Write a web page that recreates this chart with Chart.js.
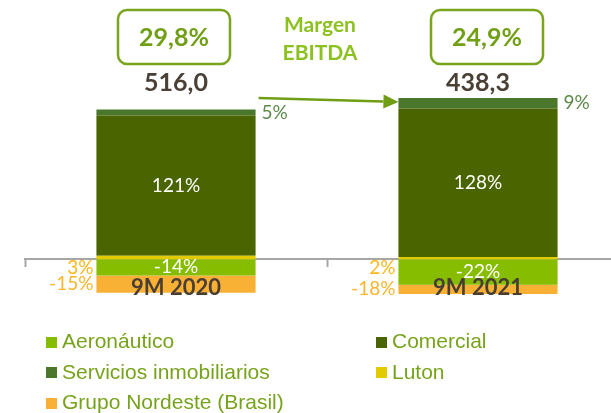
<!DOCTYPE html>
<html>
<head>
<meta charset="utf-8">
<script src="https://cdn.jsdelivr.net/npm/chart.js@4"></script>
<style>
    html, body { margin: 0; padding: 0; background: #fff; overflow: hidden; width: 611px; height: 413px; }
    #wrap { position: relative; width: 611px; height: 413px; }
    #chart { position: absolute; left: 0; top: 0; }
    #legend { position: absolute; left: 0; top: 0; width: 611px; height: 413px; pointer-events: none; }
    .legend-item {
        position: absolute; height: 30px; display: flex; align-items: center;
        font: 21px 'Liberation Sans', Arial, sans-serif; color: #77a31c; white-space: nowrap;
    }
    .legend-box { width: 11px; height: 11px; margin-right: 5px; margin-top: 2px; }
</style>
</head>
<body>
<div id="wrap">
    <canvas id="chart" width="640" height="310"></canvas>
    <div id="legend"></div>
</div>
<script>
// Chart data (share of EBITDA, %)
const categories = ['9M 2020', '9M 2021'];
const ebitdaTotals = [516.0, 438.3];
const ebitdaMargin = [29.8, 24.9];
const aeronautico = [-14, -22];
const comercial = [121, 128];
const inmobiliario = [5, 9];
const luton = [3, 2];
const nordeste = [-15, -18];

const COLORS = {
    aero: '#86bd00',
    comercial: '#4a6500',
    inmob: '#4b772d',
    luton: '#e2cc00',
    nordeste: '#f8b134',
};

const LEGEND_ORDER = ['Aeronáutico', 'Comercial', 'Servicios inmobiliarios', 'Luton', 'Grupo Nordeste (Brasil)'];

/**
 * Segment labels, totals, margin boxes and arrow
 */
const annotations = {
    id: 'annotations',
    afterDatasetsDraw(chart) {
        const ctx = chart.ctx;
        const area = chart.chartArea;
        const zeroY = chart.scales.y.getPixelForValue(0);

        chart.data.datasets.forEach((ds, i) => {
            const meta = chart.getDatasetMeta(i);
            meta.data.forEach((bar, j) => {
                const text = ds.data[j] + '%';
                const top = Math.max(Math.min(bar.y, bar.base), area.top);
                const bottom = Math.min(Math.max(bar.y, bar.base), area.bottom);
                const midY = (top + bottom) / 2;
                const half = bar.width / 2;

                ctx.save();
                ctx.font = '19px Lato, sans-serif';
                ctx.fillStyle = ds.labelColor;
                ctx.textBaseline = 'middle';
                if (ds.labelAt === 'center') {
                    ctx.textAlign = 'center';
                    ctx.fillText(text, bar.x, midY);
                } else if (ds.labelAt === 'right') {
                    ctx.textAlign = 'left';
                    ctx.fillText(text, bar.x + half + 6, midY);
                } else {
                    // tiny segments get their label just under the zero line
                    const y = ds.labelAt === 'leftZero' ? zeroY + 9 : midY;
                    ctx.textAlign = 'right';
                    ctx.fillText(text, bar.x - half - 3, y);
                }
                ctx.restore();
            });
        });
    },
    afterDraw(chart) {
        const ctx = chart.ctx;
        const area = chart.chartArea;
        const bars = chart.getDatasetMeta(0).data;
        const boxShift = [-2, 9];

        ctx.save();

        // EBITDA totals
        ctx.font = 'bold 25px Lato, sans-serif';
        ctx.fillStyle = '#4a4035';
        ctx.textAlign = 'center';
        ctx.textBaseline = 'middle';
        bars.forEach((bar, j) => {
            ctx.fillText(ebitdaTotals[j].toFixed(1).replace('.', ','), bar.x, area.top - 15);
        });

        // Margin boxes
        bars.forEach((bar, j) => {
            const cx = bar.x + boxShift[j];
            ctx.beginPath();
            ctx.roundRect(cx - 56, 10, 112, 54, 9);
            ctx.lineWidth = 2.5;
            ctx.strokeStyle = '#79a51d';
            ctx.stroke();
            ctx.font = 'bold 25px Lato, sans-serif';
            ctx.fillStyle = '#71a016';
            ctx.fillText(ebitdaMargin[j].toFixed(1).replace('.', ',') + '%', cx, 38);
        });

        // Margen EBITDA caption
        const midX = (bars[0].x + bars[1].x) / 2 - 7;
        ctx.font = 'bold 21px Lato, sans-serif';
        ctx.fillStyle = '#8cc21f';
        ctx.fillText('Margen', midX, 25);
        ctx.fillText('EBITDA', midX, 53);

        // Arrow between bars
        const x1 = bars[0].x + bars[0].width / 2 + 3;
        const y1 = area.top;
        const x2 = bars[1].x - bars[1].width / 2;
        const y2 = area.top + 4;
        const ang = Math.atan2(y2 - y1, x2 - x1);
        const headLen = 15;
        ctx.strokeStyle = '#6f9d14';
        ctx.fillStyle = '#6f9d14';
        ctx.lineWidth = 2.5;
        ctx.beginPath();
        ctx.moveTo(x1, y1);
        ctx.lineTo(x2 - headLen * Math.cos(ang), y2 - headLen * Math.sin(ang));
        ctx.stroke();
        ctx.beginPath();
        ctx.moveTo(x2, y2);
        ctx.lineTo(x2 - headLen * Math.cos(ang) + 7 * Math.sin(ang), y2 - headLen * Math.sin(ang) - 7 * Math.cos(ang));
        ctx.lineTo(x2 - headLen * Math.cos(ang) - 7 * Math.sin(ang), y2 - headLen * Math.sin(ang) + 7 * Math.cos(ang));
        ctx.closePath();
        ctx.fill();

        ctx.restore();
    }
};

const datasets = [
    { label: 'Luton', data: luton, backgroundColor: COLORS.luton, labelAt: 'leftZero', labelColor: '#f9b81c' },
    { label: 'Aeronáutico', data: aeronautico, backgroundColor: COLORS.aero, labelAt: 'center', labelColor: '#ffffff' },
    { label: 'Comercial', data: comercial, backgroundColor: COLORS.comercial, labelAt: 'center', labelColor: '#ffffff' },
    { label: 'Grupo Nordeste (Brasil)', data: nordeste, backgroundColor: COLORS.nordeste, labelAt: 'left', labelColor: '#f9b52e' },
    { label: 'Servicios inmobiliarios', data: inmobiliario, backgroundColor: COLORS.inmob, labelAt: 'right', labelColor: '#5b8b47' },
];

const chart = new Chart(document.getElementById('chart'), {
    type: 'bar',
    data: {
        labels: categories,
        datasets: datasets.map(d => ({
            ...d,
            borderWidth: 0,
            barPercentage: 0.527,
            categoryPercentage: 1,
        })),
    },
    options: {
        responsive: false,
        animation: false,
        devicePixelRatio: 1,
        layout: { padding: { left: 25, right: 11, top: 98, bottom: 16 } },
        plugins: {
            legend: { display: false },
            tooltip: { enabled: false },
        },
        scales: {
            x: {
                stacked: true,
                position: { y: 0 },
                afterFit: (scale) => { scale.height = 0; },
                grid: {
                    drawOnChartArea: false,
                    drawTicks: true,
                    tickLength: 7,
                    tickWidth: 2,
                    color: '#a6a6a6',
                },
                border: { display: true, color: '#a6a6a6', width: 2 },
                ticks: {
                    z: 1,
                    padding: 8,
                    color: '#483e33',
                    font: { family: 'Lato', weight: 'bold', size: 22 },
                },
            },
            y: {
                stacked: true,
                display: false,
                min: -30,
                max: 139,
            },
        },
    },
    plugins: [annotations],
});

// HTML legend, two columns
const legendEl = document.getElementById('legend');
LEGEND_ORDER.forEach((name, k) => {
    const ds = chart.data.datasets.find(d => d.label === name);
    const item = document.createElement('div');
    item.className = 'legend-item';
    item.style.left = (k % 2 === 0 ? 46 : 376) + 'px';
    item.style.top = (326 + Math.floor(k / 2) * 30.5) + 'px';
    item.innerHTML = `<span class="legend-box" style="background:${ds.backgroundColor}"></span>${name}`;
    legendEl.appendChild(item);
});
</script>
</body>
</html>
